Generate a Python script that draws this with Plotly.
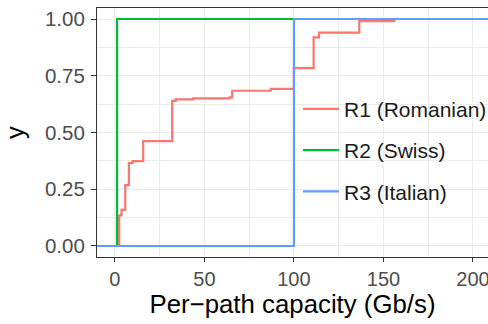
import plotly.graph_objects as go

# ECDF step points
r1_x = [-20, 2.4, 3.7, 5.8, 7.8, 9.9, 15.8, 32, 34, 43.7, 64, 65.5, 87, 100, 111, 114, 136.5, 156, 250]
r1_y = [0, 0.135, 0.159, 0.268, 0.366, 0.374, 0.462, 0.639, 0.646, 0.650, 0.655, 0.684, 0.692, 0.784, 0.919, 0.940, 0.991, 1.0, 1.0]
r2_x = [-20, 1.2, 250]
r2_y = [0, 1.0, 1.0]
r3_x = [-20, 100, 250]
r3_y = [0, 1.0, 1.0]

names = ["R1 (Romanian)", "R2 (Swiss)", "R3 (Italian)"]
colors = ["#F8766D", "#00BA38", "#619CFF"]
xs = [r1_x, r2_x, r3_x]
ys = [r1_y, r2_y, r3_y]

x_ticks = [0, 50, 100, 150, 200]
y_ticks = [0, 0.25, 0.5, 0.75, 1.0]
y_tick_text = ["0.00", "0.25", "0.50", "0.75", "1.00"]

fig = go.Figure()
for i, (x, y, n, c) in enumerate(zip(xs, ys, names, colors)):
    fig.add_trace(go.Scatter(x=x, y=y, name=n, mode="lines", line_shape="hv",
                             legendgroup=f"g{i}",
                             line=dict(color=c, width=2.2)))

font = "Liberation Sans, Arial, sans-serif"
fig.update_layout(
    width=488, height=324,
    margin=dict(l=97, r=0, t=8, b=67, autoexpand=False),
    paper_bgcolor="white", plot_bgcolor="white",
    font=dict(family=font, color="#4D4D4D", size=20),
    legend=dict(x=0.514, xanchor="left", y=0.676, yanchor="top",
                bgcolor="rgba(0,0,0,0)", font=dict(size=21, color="#1A1A1A"),
                tracegroupgap=11, itemwidth=36),
    showlegend=True,
)
fig.update_xaxes(
    range=[-10, 208.4], tickvals=x_ticks, ticktext=[str(v) for v in x_ticks],
    ticklabeloverflow="allow", automargin=False,
    showgrid=True, gridcolor="#EBEBEB", gridwidth=1.2,
    minor=dict(dtick=25, tick0=25, showgrid=True, gridcolor="#EBEBEB", gridwidth=0.6),
    showline=True, linecolor="#333333", linewidth=1.2, mirror=True,
    ticks="outside", ticklen=4, tickcolor="#333333", tickwidth=1.2,
    zeroline=False,
    tickfont=dict(size=20, color="#4D4D4D"),
    title=dict(text="Per\u2212path capacity (Gb/s)", font=dict(size=25.8, color="#000000"), standoff=4),
)
fig.update_yaxes(
    range=[-0.0485, 1.0485], tickvals=y_ticks, ticktext=y_tick_text,
    automargin=False,
    showgrid=True, gridcolor="#EBEBEB", gridwidth=1.2,
    minor=dict(dtick=0.25, tick0=0.125, showgrid=True, gridcolor="#EBEBEB", gridwidth=0.6),
    showline=True, linecolor="#333333", linewidth=1.2, mirror=False,
    ticks="outside", ticklen=5, tickcolor="#333333", tickwidth=1.2,
    ticklabelstandoff=2,
    zeroline=False,
    tickfont=dict(size=20.5, color="#4D4D4D"),
    title=dict(text="y", font=dict(size=25.5, color="#000000"), standoff=12),
)
fig.write_html("out.html")
